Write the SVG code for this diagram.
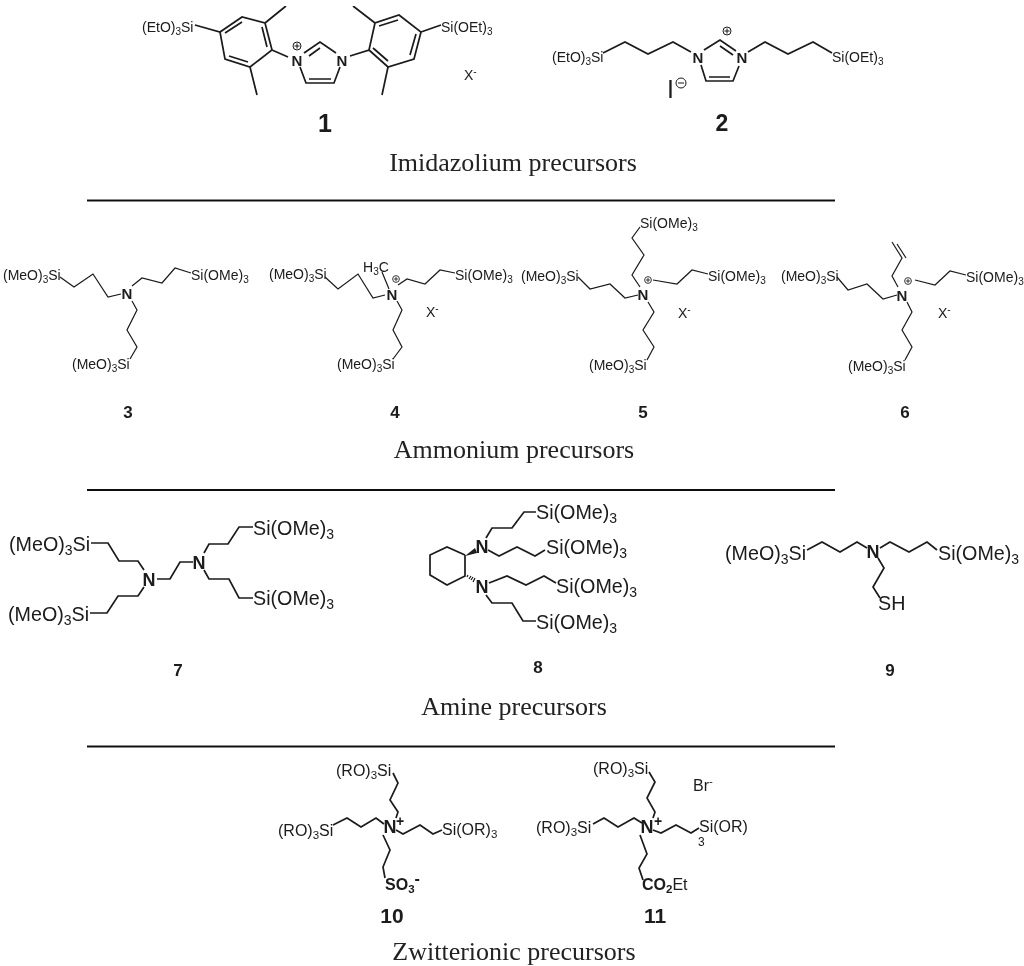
<svg xmlns="http://www.w3.org/2000/svg" width="1024" height="966" viewBox="0 0 1024 966">
<style>
text{font-family:"Liberation Sans",Arial,sans-serif;fill:#1a1a1a}
.b,.r{fill:none;stroke:#1a1a1a;stroke-linejoin:miter;stroke-linecap:butt}
.b{stroke-width:1.2}
.r{stroke-width:1.7}
.t14{font-size:14px}.t16{font-size:16px}.t20{font-size:19.7px}
.s14{font-size:10px}.s16{font-size:11.500px}.s20{font-size:14px}
.n{font-size:15px;font-weight:bold;text-anchor:middle}
.n2{font-size:18px;font-weight:bold;text-anchor:middle}
.no{font-size:21px;font-weight:bold;text-anchor:middle}
.no2{font-size:17px;font-weight:bold;text-anchor:middle}
.ti{font-family:"Liberation Serif","Times New Roman",serif;font-size:26px;text-anchor:middle;fill:#222}
.c{fill:none;stroke:#1a1a1a;stroke-width:1}
.rule{stroke:#111;stroke-width:2}
</style>
<defs>
<g id="plus"><circle class="c" r="4"/><path class="c" d="M-2.6 0H2.6M0-2.6V2.6"/></g>
<filter id="soft" x="0" y="0" width="100%" height="100%"><feGaussianBlur stdDeviation="0.45"/></filter>
</defs>
<g filter="url(#soft)">
<g id="rules">
<line class="rule" x1="87" y1="200.500" x2="835" y2="200.500"/>
<line class="rule" x1="87" y1="490" x2="835" y2="490"/>
<line class="rule" x1="87" y1="746.500" x2="835" y2="746.500"/>
</g>
<g id="titles">
<text class="ti" x="513" y="171">Imidazolium precursors</text>
<text class="ti" x="514" y="458">Ammonium precursors</text>
<text class="ti" x="514" y="715">Amine precursors</text>
<text class="ti" x="514" y="960">Zwitterionic precursors</text>
</g>
<g id="mol-1">
<g class="connectors">
<path class="r" d="M195 25L220 32L242 17L265 23L272 50L250 67L225 59L220 32M265 23L286 6M250 67L257 95M272 50L288 57M229 56L248 62M262 27L267 47M225 33L242 22"/>
<path class="r" d="M350 56L369 50L375 23L399 15L421 32L414 59L388 67L369 50M375 23L353 6M388 67L382 95M421 32L441 25M373 48L388 61M379 26L398 20M416 34L410 55"/>
<path class="r" d="M304 53L320 42L336 53M309 56L320 48M300 67L306 83H334L340 67M309 79H331"/>
</g>
<text class="t14" x="142" y="32">(EtO)<tspan class="s14" dy="3">3</tspan><tspan dy="-3">Si</tspan></text>
<text class="t14" x="441" y="32">Si(OEt)<tspan class="s14" dy="3">3</tspan></text>
<text class="n" x="297" y="66">N</text><text class="n" x="342" y="66">N</text>
<use href="#plus" x="297" y="46"/>
<text class="t14" x="464" y="80">X<tspan class="s14" dy="-5">-</tspan></text>
<text class="no" x="325" y="132" style="font-size:25px">1</text>
</g>
<g id="mol-2">
<g class="connectors">
<path class="r" d="M603 53L625 42L648 54L673 42L691 52M704 50L720 40L736 51M720 46L733 55M701 65L706 81H733L739 66M709 77H730M748 52L765 42L788 54L813 42L832 53"/>
</g>
<text class="t14" x="552" y="62">(EtO)<tspan class="s14" dy="3">3</tspan><tspan dy="-3">Si</tspan></text>
<text class="t14" x="832" y="62">Si(OEt)<tspan class="s14" dy="3">3</tspan></text>
<text class="n" x="698" y="63">N</text><text class="n" x="742" y="63">N</text>
<use href="#plus" x="727" y="31"/>
<text x="667" y="98" font-size="25">I</text>
<circle class="c" cx="681" cy="83" r="5"/><path class="c" d="M678 83H684"/>
<text class="no" x="722" y="131" style="font-size:23px">2</text>
</g>
<g id="mol-3">
<g class="connectors"><path class="b" d="M60 277L74 287L93 274L108 297L121 294M132 286L142 278L162 283L175 268L191 273M132 301L137 310L127 330L137 347L130 359"/></g>
<text class="t14" x="3" y="280">(MeO)<tspan class="s14" dy="3">3</tspan><tspan dy="-3">Si</tspan></text>
<text class="t14" x="191" y="280">Si(OMe)<tspan class="s14" dy="3">3</tspan></text>
<text class="t14" x="72" y="369">(MeO)<tspan class="s14" dy="3">3</tspan><tspan dy="-3">Si</tspan></text>
<text class="n" x="127" y="299">N</text>
<text class="no2" x="128" y="418">3</text>
</g>
<g id="mol-4">
<g class="connectors"><path class="b" d="M325 277L338 289L358 274L373 298L385 295M382 272L389 289M398 285L407 279L425 284L440 270L455 273M397 301L402 310L393 330L402 347L393 359"/></g>
<text class="t14" x="269" y="279">(MeO)<tspan class="s14" dy="3">3</tspan><tspan dy="-3">Si</tspan></text>
<text class="t14" x="455" y="280">Si(OMe)<tspan class="s14" dy="3">3</tspan></text>
<text class="t14" x="337" y="369">(MeO)<tspan class="s14" dy="3">3</tspan><tspan dy="-3">Si</tspan></text>
<text class="t14" x="363" y="272">H<tspan class="s14" dy="3">3</tspan><tspan dy="-3">C</tspan></text>
<text class="n" x="392" y="300">N</text>
<use href="#plus" transform="translate(396 279) scale(.85)"/>
<text class="t14" x="426" y="317">X<tspan class="s14" dy="-5">-</tspan></text>
<text class="no2" x="395" y="418">4</text>
</g>
<g id="mol-5">
<g class="connectors"><path class="b" d="M578 277L590 289L610 284L625 298L638 295M640 287L632 275L644 255L632 238L640 227M653 280L677 284L692 270L708 274M648 302L654 312L643 330L654 347L647 360"/></g>
<text class="t14" x="521" y="281">(MeO)<tspan class="s14" dy="3">3</tspan><tspan dy="-3">Si</tspan></text>
<text class="t14" x="640" y="228">Si(OMe)<tspan class="s14" dy="3">3</tspan></text>
<text class="t14" x="708" y="281">Si(OMe)<tspan class="s14" dy="3">3</tspan></text>
<text class="t14" x="589" y="370">(MeO)<tspan class="s14" dy="3">3</tspan><tspan dy="-3">Si</tspan></text>
<text class="n" x="643" y="300">N</text>
<use href="#plus" transform="translate(648 280) scale(.85)"/>
<text class="t14" x="678" y="318">X<tspan class="s14" dy="-5">-</tspan></text>
<text class="no2" x="643" y="418">5</text>
</g>
<g id="mol-6">
<g class="connectors"><path class="b" d="M837 277L848 290L867 284L883 299L897 295M898 287L892 276L902 258L892 242M897 244L906 258M915 280L935 285L950 271L966 275M907 302L912 312L902 330L912 347L905 360"/></g>
<text class="t14" x="781" y="281">(MeO)<tspan class="s14" dy="3">3</tspan><tspan dy="-3">Si</tspan></text>
<text class="t14" x="966" y="282">Si(OMe)<tspan class="s14" dy="3">3</tspan></text>
<text class="t14" x="848" y="371">(MeO)<tspan class="s14" dy="3">3</tspan><tspan dy="-3">Si</tspan></text>
<text class="n" x="902" y="301">N</text>
<use href="#plus" transform="translate(908 281) scale(.85)"/>
<text class="t14" x="938" y="318">X<tspan class="s14" dy="-5">-</tspan></text>
<text class="no2" x="905" y="418">6</text>
</g>
<g id="mol-7">
<g class="connectors"><path class="r" d="M91 543H108L119 561H138L144 570M157 579H170L180 562H193M204 553L209 544H228L239 527H253M204 570L209 579H229L239 598H253M144 587L138 596H118L107 613H90"/></g>
<text class="t20" x="9" y="551">(MeO)<tspan class="s20" dy="4">3</tspan><tspan dy="-4">Si</tspan></text>
<text class="t20" x="8" y="621">(MeO)<tspan class="s20" dy="4">3</tspan><tspan dy="-4">Si</tspan></text>
<text class="t20" x="253" y="535">Si(OMe)<tspan class="s20" dy="4">3</tspan></text>
<text class="t20" x="253" y="605">Si(OMe)<tspan class="s20" dy="4">3</tspan></text>
<text class="n2" x="149" y="586">N</text><text class="n2" x="199" y="569">N</text>
<text class="no2" x="178" y="676">7</text>
</g>
<g id="mol-8">
<g class="connectors">
<path class="r" d="M536 512H524L512 528H492L486 538M488 550L499 556L517 547L535 556L545 550M465 555L447 547L430 555V575L447 585L465 576V555M489 583L507 576L526 585L544 576L556 583M486 595L492 603H512L523 621H536"/>
<path d="M465 556L475 548L477 553Z" fill="#1a1a1a"/>
<path class="b" d="M467 577L468 575M469 579L471 576M471 580L473 577M473 582L475 578"/>
</g>
<text class="t20" x="536" y="519">Si(OMe)<tspan class="s20" dy="4">3</tspan></text>
<text class="t20" x="546" y="554">Si(OMe)<tspan class="s20" dy="4">3</tspan></text>
<text class="t20" x="556" y="593">Si(OMe)<tspan class="s20" dy="4">3</tspan></text>
<text class="t20" x="536" y="629">Si(OMe)<tspan class="s20" dy="4">3</tspan></text>
<text class="n2" x="482" y="553">N</text><text class="n2" x="482" y="593">N</text>
<text class="no2" x="538" y="673">8</text>
</g>
<g id="mol-9">
<g class="connectors"><path class="r" d="M807 550L822 542L840 552L857 542L867 548M880 548L890 542L909 552L927 542L937 550M878 558L884 568L873 587L880 598"/></g>
<text class="t20" x="725" y="560">(MeO)<tspan class="s20" dy="4">3</tspan><tspan dy="-4">Si</tspan></text>
<text class="t20" x="938" y="560">Si(OMe)<tspan class="s20" dy="4">3</tspan></text>
<text class="t20" x="878" y="610">SH</text>
<text class="n2" x="873" y="558">N</text>
<text class="no2" x="890" y="676">9</text>
</g>
<g id="mol-10">
<g class="connectors"><path class="r" d="M393 773L398 783L390 800L398 812L396 818M333 825L347 818L361 827L376 818L384 824M396 830L403 834L420 825L433 834L442 830M383 835L390 850L383 867L385 878"/></g>
<text class="t16" x="336" y="776">(RO)<tspan class="s16" dy="3">3</tspan><tspan dy="-3">Si</tspan></text>
<text class="t16" x="278" y="836">(RO)<tspan class="s16" dy="3">3</tspan><tspan dy="-3">Si</tspan></text>
<text class="t16" x="442" y="835">Si(OR)<tspan class="s16" dy="3">3</tspan></text>
<text class="n2" x="390" y="833">N</text>
<text x="396" y="826" font-size="14" font-weight="bold">+</text>
<text class="t16" x="385" y="890" font-weight="bold">SO<tspan class="s16" dy="3">3</tspan><tspan dy="-9">-</tspan></text>
<text class="no" x="392" y="923">10</text>
</g>
<g id="mol-11">
<g class="connectors"><path class="r" d="M649 772L655 782L647 798L655 812L653 818M593 824L604 818L618 827L634 818L642 823M653 830L661 833L676 825L691 833L699 828M640 835L647 854L639 868L643 880"/></g>
<text class="t16" x="593" y="774">(RO)<tspan class="s16" dy="3">3</tspan><tspan dy="-3">Si</tspan></text>
<text class="t16" x="536" y="833">(RO)<tspan class="s16" dy="3">3</tspan><tspan dy="-3">Si</tspan></text>
<text class="t16" x="699" y="832">Si(OR)</text>
<text x="698" y="846" font-size="12">3</text>
<text class="t16" x="693" y="791">Br<tspan class="s16" dy="-6">-</tspan></text>
<text class="n2" x="647" y="833">N</text>
<text x="654" y="826" font-size="14" font-weight="bold">+</text>
<text class="t16" x="642" y="890"><tspan font-weight="bold">CO<tspan class="s16" dy="3">2</tspan></tspan><tspan dy="-3">Et</tspan></text>
<text class="no" x="655" y="923">11</text>
</g>
</g>
</svg>
